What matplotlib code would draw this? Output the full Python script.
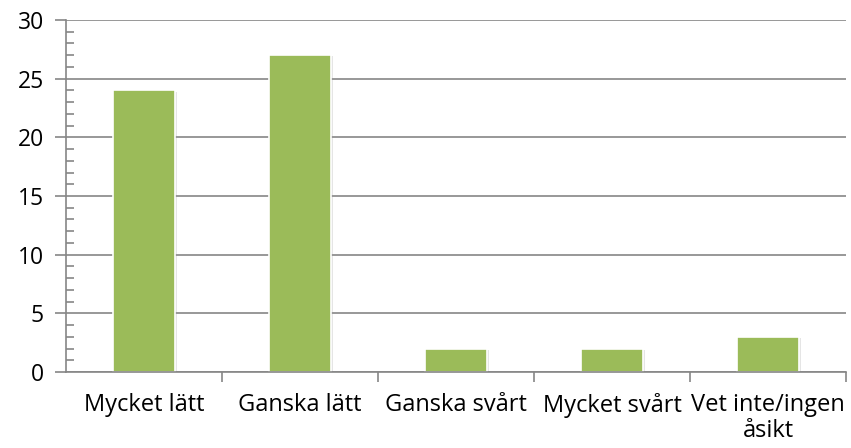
import matplotlib
matplotlib.use("Agg")
import matplotlib.pyplot as plt
import matplotlib.patheffects as pe
from matplotlib.ticker import MultipleLocator

categories = ["Mycket lätt", "Ganska lätt", "Ganska svårt", "Mycket svårt",
              "Vet inte/ingen\nåsikt"]
values = [24, 27, 2, 2, 3]
y_ticks = [0, 5, 10, 15, 20, 25, 30]

plt.rcParams["font.family"] = ["Open Sans", "DejaVu Sans"]

fig = plt.figure(figsize=(8.51, 4.48), dpi=100)
ax = fig.add_axes([66 / 851, 76 / 448, 780 / 851, 352 / 448])

grid_col = "#868686"
x = list(range(len(categories)))
bars = ax.bar(x, values, width=0.4, color="#9BBB59", edgecolor="white",
              linewidth=1.2, zorder=3)
for b in bars:
    b.set_path_effects([pe.SimplePatchShadow(offset=(1.2, -0.8), shadow_rgbFace="#999999",
                                             alpha=0.25), pe.Normal()])

ax.set_xlim(-0.5, len(categories) - 0.5)
ax.set_ylim(0, 30)
ax.set_yticks(y_ticks)
ax.yaxis.set_minor_locator(MultipleLocator(1))
ax.set_yticklabels([str(t) for t in y_ticks], fontsize=16.5)
ax.yaxis.grid(True, which="major", color=grid_col, linewidth=1.2, zorder=0)

ax.set_xticks(x)
ax.set_xticklabels(categories, fontsize=17, linespacing=1.1)
ax.tick_params(axis="x", length=0, pad=15)
ax.set_xticks([i + 0.5 for i in x], minor=True)
ax.tick_params(axis="x", which="minor", length=7, width=1.2, color=grid_col, direction="out")
ax.tick_params(axis="y", which="major", length=8, width=1.2, color=grid_col,
               direction="out", pad=8)
ax.tick_params(axis="y", which="minor", length=6, width=1.2, color=grid_col,
               direction="in")

for s in ["top", "right"]:
    ax.spines[s].set_visible(False)
for s in ["left", "bottom"]:
    ax.spines[s].set_color(grid_col)
    ax.spines[s].set_linewidth(1.2)
    ax.spines[s].set_zorder(4)

fig.savefig("out.png", dpi=100)
